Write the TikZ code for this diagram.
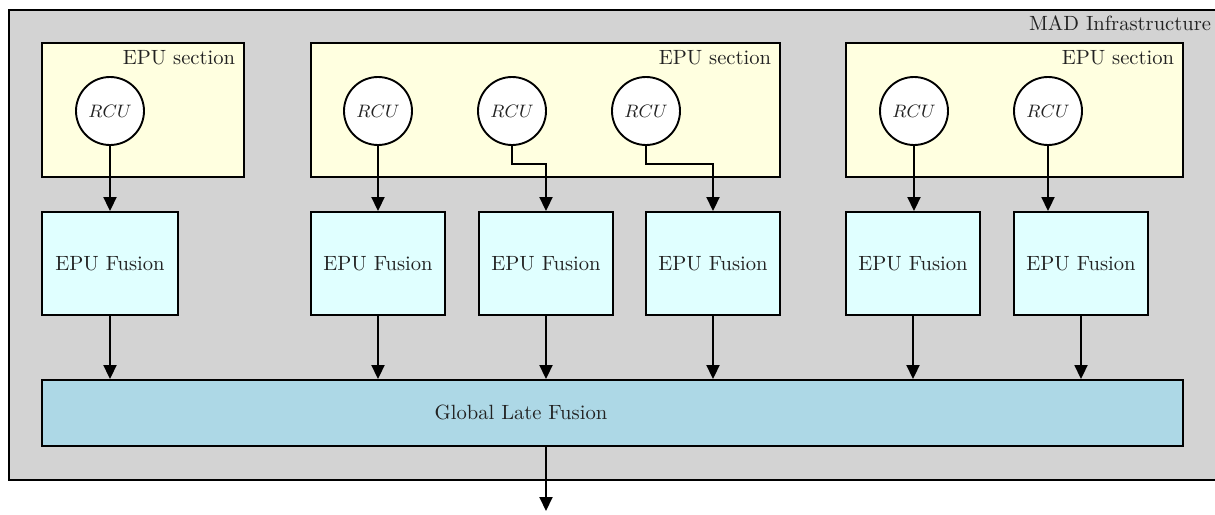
\documentclass[tikz,border=0pt]{standalone}
\usetikzlibrary{arrows.meta,fit}
\definecolor{outerfill}{HTML}{D3D3D3}
\definecolor{secfill}{HTML}{FFFFE0}
\definecolor{fusfill}{HTML}{E0FFFF}
\definecolor{globfill}{HTML}{ADD8E6}
\definecolor{txt}{HTML}{222222}
\begin{document}
\begin{tikzpicture}[x=0.5pt,y=-0.5pt,line width=0.95pt,
  >={Triangle[length=7pt,width=6.5pt]},
  every node/.style={font=\fontsize{10.3}{12}\selectfont,text=txt},
  box/.style={draw=black,inner sep=0pt,rectangle},
  outerbox/.style={box,fill=outerfill},
  secbox/.style={box,fill=secfill},
  fusbox/.style={box,fill=fusfill},
  globbox/.style={box,fill=globfill},
  rcu/.style={draw=black,fill=white,circle,minimum size=34pt,inner sep=0pt,font=\fontsize{8.8}{10}\selectfont},
  lbl/.style={anchor=base east,inner sep=0pt},
  conn/.style={->,draw=black}]
\useasboundingbox (0,0) rectangle (1215,514);
% outer
\node[outerbox,fit={(9,10) (1230,480)}] (mad) {};
\node[lbl] (madlbl) at (1212,31) {MAD Infrastructure};
% sections
\node[secbox,fit={(42,43) (244,177)}] (s1) {};
\node[secbox,fit={(311,43) (780,177)}] (s2) {};
\node[secbox,fit={(846,43) (1183,177)}] (s3) {};
\node[lbl] (s1lbl) at (236,64) {EPU section};
\node[lbl] (s2lbl) at (772,64) {EPU section};
\node[lbl] (s3lbl) at (1175,64) {EPU section};
% RCUs
\node[rcu] (r1) at (110,111) {$RCU$};
\node[rcu] (r2) at (378,111) {$RCU$};
\node[rcu] (r3) at (512,111) {$RCU$};
\node[rcu] (r4) at (646,111) {$RCU$};
\node[rcu] (r5) at (914,111) {$RCU$};
\node[rcu] (r6) at (1048,111) {$RCU$};
% fusion boxes
\node[fusbox,fit={(42,212) (178,315)}] (f1) {};
\node[fusbox,fit={(311,212) (445,315)}] (f2) {};
\node[fusbox,fit={(479,212) (613,315)}] (f3) {};
\node[fusbox,fit={(646,212) (780,315)}] (f4) {};
\node[fusbox,fit={(846,212) (980,315)}] (f5) {};
\node[fusbox,fit={(1014,212) (1148,315)}] (f6) {};
\foreach \i in {1,...,6} {\node (ft\i) at (f\i.center) {EPU Fusion};}
% global
\node[globbox,fit={(42,380) (1183,446)}] (g) {};
\node (gt) at (521,412) {Global Late Fusion};
\coordinate (out) at (546,511);
% connectors
\draw[conn] (r1.south) -- (r1.south |- f1.north);
\draw[conn] (r2.south) -- (r2.south |- f2.north);
\draw[conn] (r3.south) -- (r3.south |- 0,164) -| (f3.north);
\draw[conn] (r4.south) -- (r4.south |- 0,164) -| (f4.north);
\draw[conn] (r5.south) -- (r5.south |- f5.north);
\draw[conn] (r6.south) -- (r6.south |- f6.north);
\foreach \i in {1,...,6} {\draw[conn] (f\i.south) -- (f\i.south |- g.north);}
\draw[conn] (out |- g.south) -- (out);
\end{tikzpicture}
\end{document}
